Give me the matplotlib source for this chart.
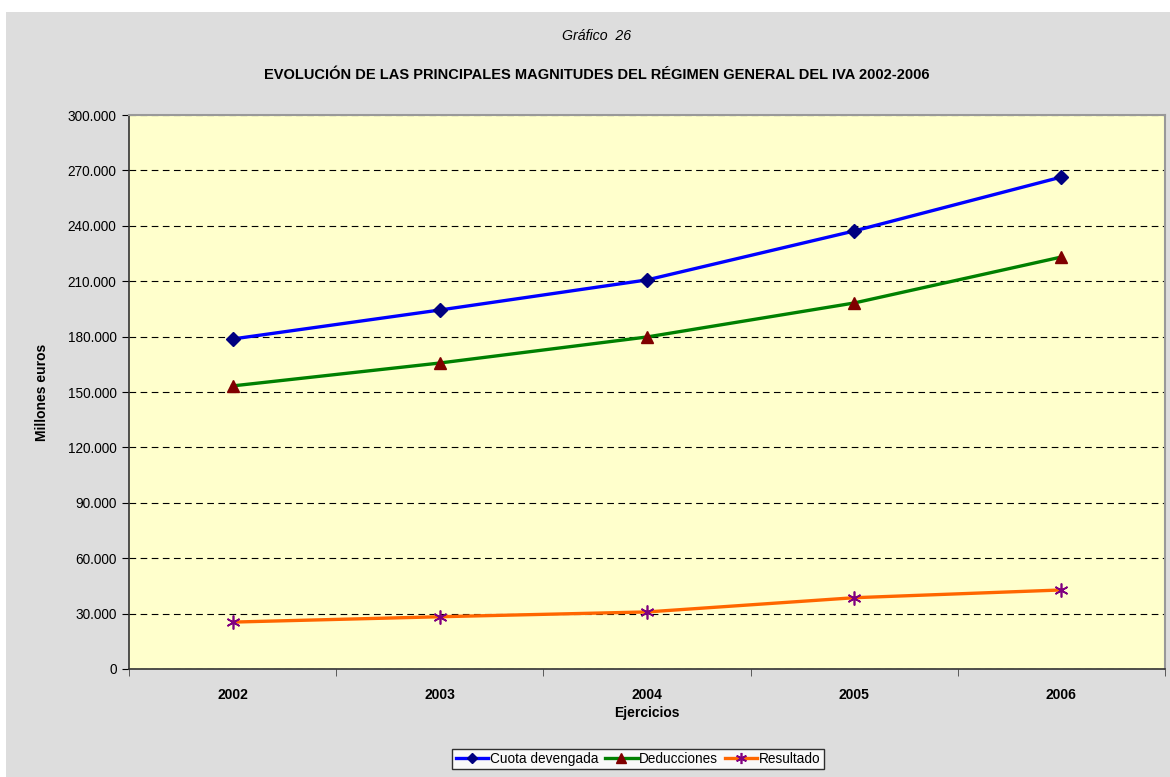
import matplotlib.pyplot as plt
from matplotlib.patches import Rectangle
from matplotlib.ticker import FuncFormatter, MultipleLocator

plt.rcParams['font.family'] = ['Liberation Sans', 'DejaVu Sans']

# data (millones de euros)
years = ['2002', '2003', '2004', '2005', '2006']
cuota = [178700, 194400, 210700, 237200, 266400]
deducciones = [153300, 165700, 179800, 198200, 223100]
resultado = [25400, 28300, 30900, 38600, 42800]

fig = plt.figure(figsize=(11.7, 7.77), dpi=100)
fig.patches.append(Rectangle((6 / 1170, 0), 1, (777 - 12) / 777,
                             transform=fig.transFigure, facecolor='#DDDDDD',
                             edgecolor='none', zorder=-10))

ax = fig.add_axes([129 / 1170, 108 / 777, 1036 / 1170, 554 / 777])
ax.set_facecolor('#FFFFCC')

x = list(range(len(years)))
ax.plot(x, cuota, color='#0000FF', linewidth=2.4, marker='D', markersize=7,
        markerfacecolor='#000080', markeredgecolor='#000080', label='Cuota devengada')
ax.plot(x, deducciones, color='#008000', linewidth=2.4, marker='^', markersize=9,
        markerfacecolor='#800000', markeredgecolor='#800000', label='Deducciones')
ax.plot(x, resultado, color='#FF6600', linewidth=2.4, marker=(6, 2, 0), markersize=10,
        markerfacecolor='#800080', markeredgecolor='#800080', markeredgewidth=1.2,
        label='Resultado')

ax.set_xlim(-0.5, 4.5)
ax.set_ylim(0, 300000)
ax.yaxis.set_major_locator(MultipleLocator(30000))
ax.yaxis.set_major_formatter(FuncFormatter(lambda v, p: '0' if v == 0 else f"{int(v):,}".replace(',', '.')))
ax.grid(axis='y', color='black', linestyle=(0, (6, 4)), linewidth=0.8)
ax.set_axisbelow(True)

ax.set_xticks(x)
ax.set_xticklabels(years, fontweight='bold', fontsize=10)
ax.set_xticks([i - 0.5 for i in range(6)], minor=True)
ax.tick_params(axis='x', which='major', length=0, pad=14)
ax.tick_params(axis='x', which='minor', length=5, direction='out', color='#444444')
ax.tick_params(axis='y', length=5, direction='out', labelsize=9.8, pad=4)

for s in ['left', 'bottom']:
    ax.spines[s].set_color('#333333')
    ax.spines[s].set_linewidth(1.2)
for s in ['top', 'right']:
    ax.spines[s].set_color('#999999')
    ax.spines[s].set_linewidth(1.5)

ax.set_xlabel('Ejercicios', fontweight='bold', fontsize=10)
ax.set_ylabel('Millones euros', fontweight='bold', fontsize=10)
ax.xaxis.set_label_coords(0.5, (669 - 713) / 554)
ax.yaxis.set_label_coords((42 - 129) / 1036, 0.5)
ax.xaxis.label.set_va('center')
ax.yaxis.label.set_va('center')

fig.text(597 / 1170, 1 - 36 / 777, 'Gráfico  26', ha='center', va='center',
         fontstyle='italic', fontsize=10.2)
fig.text(597 / 1170, 1 - 75 / 777,
         'EVOLUCIÓN DE LAS PRINCIPALES MAGNITUDES DEL RÉGIMEN GENERAL DEL IVA 2002-2006',
         ha='center', va='center', fontweight='bold', fontsize=10.5)

leg = fig.legend(loc='center', bbox_to_anchor=(638 / 1170, 1 - 759 / 777), ncol=3,
                 frameon=True, fancybox=False, fontsize=9.8, handlelength=2.4,
                 handletextpad=0.1, columnspacing=0.5, borderpad=0.25,
                 borderaxespad=0, markerscale=0.8)
leg.get_frame().set_edgecolor('black')
leg.get_frame().set_linewidth(1.0)

fig.savefig('out.png', dpi=100)
